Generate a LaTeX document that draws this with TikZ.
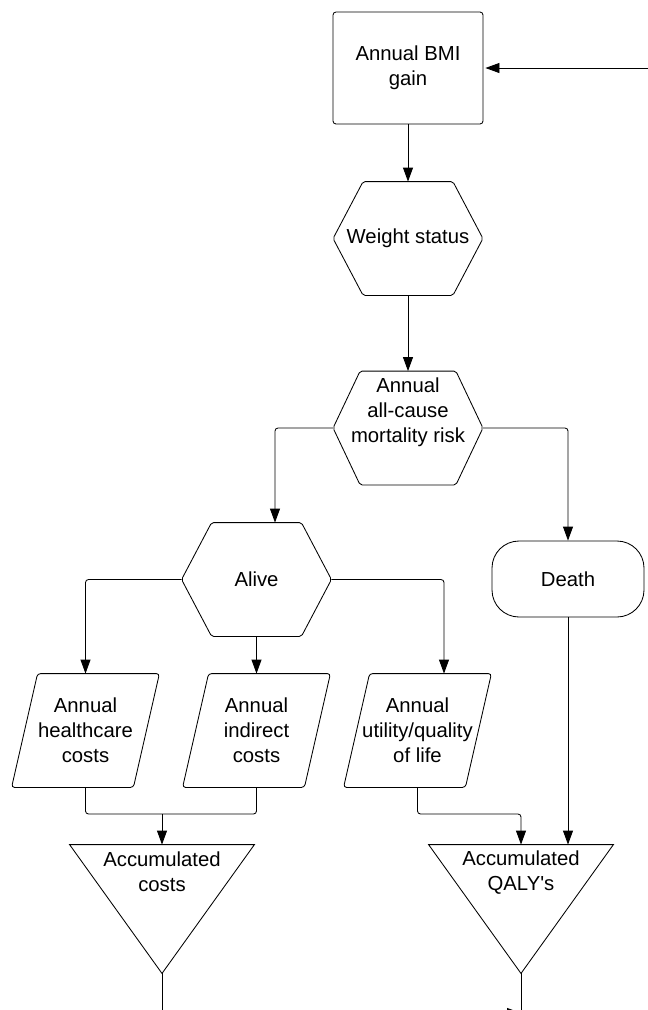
\documentclass[tikz,border=0pt]{standalone}
\usepackage{fontspec}
\setmainfont{Liberation Sans}
\usetikzlibrary{arrows.meta, calc, positioning}

\begin{document}
\begin{tikzpicture}[x=1pt, y=-1pt, line width=0.85pt,
	every node/.style={font=\fontsize{20.3}{25}\selectfont, align=center, inner sep=0pt},
	arr/.style={-{Triangle[length=14pt, width=10pt]}},
	box/.style={draw, rounded corners=3pt, minimum width=150pt, minimum height=112pt},
	hexa/.style={minimum width=149pt, minimum height=113pt},
	para/.style={minimum width=147pt, minimum height=113pt},
	term/.style={draw, rounded corners=27pt, minimum width=152pt, minimum height=76pt},
	funnel/.style={minimum width=184pt, minimum height=128pt}]
	\useasboundingbox (0,0) rectangle (648,1010);
	\clip (0,0) rectangle (648,1010);
	% nodes
	\node [box] (bmi) at (408,68) {Annual BMI\\gain};
	\node [hexa] (ws) at (408,238.5) {Weight status};
	\node [hexa] (mort) at (408,428) {};
	\node (mortText) at ($(mort)+(0,-16)$) {Annual\\all-cause\\mortality risk};
	\node [hexa] (alive) at (256.5,579.5) {Alive};
	\node [term] (death) at (568,579) {Death};
	\node [para] (hc) at (85.5,730.5) {Annual\\healthcare\\costs};
	\node [para] (ind) at (256.5,730.5) {Annual\\indirect\\costs};
	\node [para] (ut) at (417.5,730.5) {Annual\\utility/quality\\of life};
	\node [funnel] (costs) at (162,909) {};
	\node (costsText) at ($(costs.north)+(0,27.5)$) {Accumulated\\costs};
	\node [funnel] (qaly) at (521,909) {};
	\node (qalyText) at ($(qaly.north)+(0,27.5)$) {Accumulated\\QALY\textquotesingle s};
	% outlines
	\foreach \n/\k in {ws/30, mort/27, alive/30}{
		\draw [rounded corners=2pt] (\n.west) -- ($(\n.north west)+(\k,0)$) -- ($(\n.north east)+(-\k,0)$)
			-- (\n.east) -- ($(\n.south east)+(-\k,0)$) -- ($(\n.south west)+(\k,0)$) -- cycle;
	}
	\foreach \n in {hc, ind, ut}{
		\draw [rounded corners=3pt] ($(\n.north west)+(26,0)$) -- (\n.north east)
			-- ($(\n.south east)+(-26,0)$) -- (\n.south west) -- cycle;
	}
	\foreach \n in {costs, qaly}{
		\draw (\n.north west) -- (\n.north east) -- (\n.south) -- cycle;
	}
	% connectors
	\coordinate (fb) at (650,68);
	\coordinate (aliveIn) at ($(alive.north)+(18.5,0)$);
	\coordinate (utIn) at ($(ut.north)+(26.5,0)$);
	\coordinate (cj) at (162,814);
	\coordinate (cutA) at (470,1013);
	\coordinate (cutB) at (521,1013);
	\draw [arr, shorten >=2pt] (fb) -- (bmi.east);
	\draw [arr] (bmi) -- (ws);
	\draw [arr] (ws) -- (mort);
	\draw [arr, rounded corners=3pt] (mort.west) -| (aliveIn);
	\draw [arr, rounded corners=3pt] (mort.east) -| (death.north);
	\draw [arr, rounded corners=3pt] (alive.west) -| (hc.north);
	\draw [arr] (alive.south) -- (alive.south |- ind.north);
	\draw [arr, rounded corners=3pt] (alive.east) -| (utIn);
	\draw [rounded corners=3pt] (hc.south) |- (cj) -| (ind.south);
	\draw [arr] (cj) -- (costs.north);
	\draw [arr, rounded corners=3pt] (ut.south) |- (qaly.north |- cj) -- (qaly.north);
	\draw [arr] (death.south) -- (death.south |- qaly.north);
	\draw (costs.south) -- ++(0,40);
	\draw (qaly.south) -- ++(0,40);
	\draw [arr] (cutA) -- (cutB);
\end{tikzpicture}
\end{document}
